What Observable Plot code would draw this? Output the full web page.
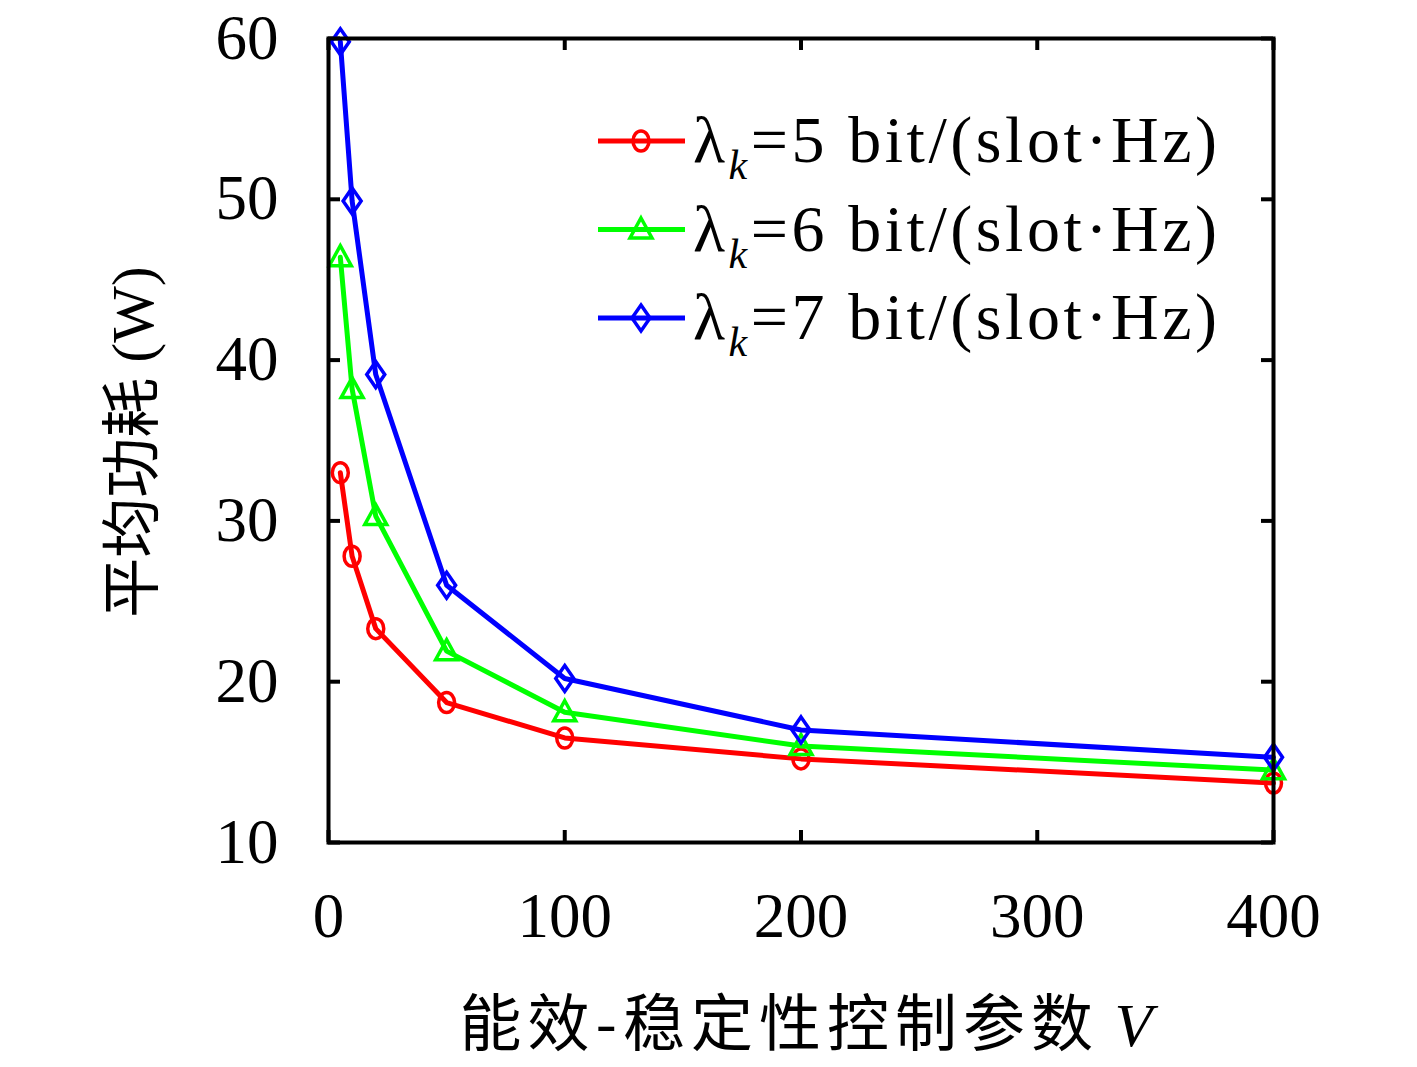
<!DOCTYPE html>
<html><head><meta charset="utf-8">
<script src="https://cdn.jsdelivr.net/npm/d3@7"></script>
<script src="https://cdn.jsdelivr.net/npm/@observablehq/plot@0.6"></script>
<style>body{margin:0;background:#fff}</style>
</head><body><div id="chart"></div>
<script>
const V = [5, 10, 20, 50, 100, 200, 400];
const power5 = [33.0, 27.8, 23.3, 18.7, 16.5, 15.2, 13.7];
const power6 = [46.4, 38.2, 30.3, 21.9, 18.1, 16.0, 14.5];
const power7 = [59.8, 49.9, 39.1, 26.0, 20.2, 17.0, 15.3];
const lambdas = ["5", "6", "7"];
const seriesColors = ["#ff0000", "#00ff00", "#0000ff"];
const xTicks = [0, 100, 200, 300, 400];
const yTicks = [10, 20, 30, 40, 50, 60];
const xLabelText = "能效-稳定性控制参数";
const yLabelText = "平均功耗";
const yLabelUnit = " (W)";

const W = 1417, H = 1067, mL = 328, mR = 144, mT = 38, mB = 225;
const plotW = W - mL - mR, plotH = H - mT - mB;
const serif = "'Liberation Serif', 'DejaVu Serif', serif";
const cjk = "'Noto Sans CJK SC', sans-serif";

const ellipseSym = {draw(c) {
  const rx = 8, ry = 10, k = 0.5523;
  c.moveTo(rx, 0);
  c.bezierCurveTo(rx, ry * k, rx * k, ry, 0, ry);
  c.bezierCurveTo(-rx * k, ry, -rx, ry * k, -rx, 0);
  c.bezierCurveTo(-rx, -ry * k, -rx * k, -ry, 0, -ry);
  c.bezierCurveTo(rx * k, -ry, rx, -ry * k, rx, 0);
  c.closePath();
}};
const triangleSym = {draw(c) {
  c.moveTo(0, -11.5); c.lineTo(11, 8.5); c.lineTo(-11, 8.5); c.closePath();
}};
const diamondSym = {draw(c) {
  c.moveTo(0, -13); c.lineTo(9, 0); c.lineTo(0, 13); c.lineTo(-9, 0); c.closePath();
}};
const symbols = [ellipseSym, triangleSym, diamondSym];
const seriesValues = [power5, power6, power7];

const rows = [];
lambdas.forEach((l, i) => V.forEach((v, j) => rows.push({series: l, V: v, P: seriesValues[i][j]})));

const marks = [];
lambdas.forEach((l, i) => {
  const d = rows.filter(r => r.series === l);
  marks.push(Plot.line(d, {x: "V", y: "P", stroke: seriesColors[i], strokeWidth: 5}));
  marks.push(Plot.dot(d, {x: "V", y: "P", stroke: seriesColors[i], fill: "none", strokeWidth: 3.5, symbol: symbols[i]}));
});

const chart = Plot.plot({
  width: W, height: H,
  marginLeft: mL, marginRight: mR, marginTop: mT, marginBottom: mB,
  style: {fontFamily: serif, background: "#fff", overflow: "visible"},
  x: {domain: [0, 400]},
  y: {domain: [10, 60]},
  marks: [
    Plot.tickX(xTicks, {x: d => d, insetTop: plotH - 12, stroke: "black", strokeWidth: 4}),
    Plot.tickX(xTicks, {x: d => d, insetBottom: plotH - 12, stroke: "black", strokeWidth: 4}),
    Plot.tickY(yTicks, {y: d => d, insetRight: plotW - 12, stroke: "black", strokeWidth: 4}),
    Plot.tickY(yTicks, {y: d => d, insetLeft: plotW - 12, stroke: "black", strokeWidth: 4}),
    Plot.axisX({ticks: xTicks, tickSize: 0, tickPadding: 50, fontSize: 63, label: null, fill: "black"}),
    Plot.axisY({ticks: yTicks, tickSize: 0, tickPadding: 50, fontSize: 63, label: null, fill: "black"}),
    ...marks,
    Plot.frame({stroke: "black", strokeWidth: 4})
  ]
});
document.getElementById("chart").appendChild(chart);

const svg = d3.select(chart);
// legend
lambdas.forEach((l, i) => {
  const y = 141 + 88.5 * i;
  const g = svg.append("g");
  g.append("line").attr("x1", 598).attr("x2", 685).attr("y1", y).attr("y2", y)
    .attr("stroke", seriesColors[i]).attr("stroke-width", 5);
  g.append("path").attr("d", d3.symbol(symbols[i])()).attr("transform", `translate(641,${y})`)
    .attr("fill", "none").attr("stroke", seriesColors[i]).attr("stroke-width", 3.5);
  const t = g.append("text").attr("x", 693).attr("y", y + 21).attr("text-anchor", "start")
    .attr("font-family", serif).attr("font-size", 66).attr("fill", "black")
    .attr("textLength", 524).attr("lengthAdjust", "spacing");
  t.append("tspan").text("λ");
  t.append("tspan").text("k").attr("font-style", "italic").attr("font-size", 42).attr("dy", 17);
  t.append("tspan").text("=" + l + " bit/(slot·Hz)").attr("dy", -17);
});
// x label
const xl = svg.append("text").attr("x", 806).attr("y", 1046).attr("text-anchor", "middle")
  .attr("font-size", 62).attr("fill", "black");
xl.append("tspan").text(xLabelText).attr("font-family", cjk).attr("letter-spacing", 6);
xl.append("tspan").text(" V").attr("font-family", serif).attr("font-style", "italic");
// y label
const yl = svg.append("text").attr("transform", "translate(153,442) rotate(-90)").attr("text-anchor", "middle")
  .attr("font-size", 60).attr("fill", "black");
yl.append("tspan").text(yLabelText).attr("font-family", cjk);
yl.append("tspan").text(yLabelUnit).attr("font-family", serif);
</script>
</body></html>
